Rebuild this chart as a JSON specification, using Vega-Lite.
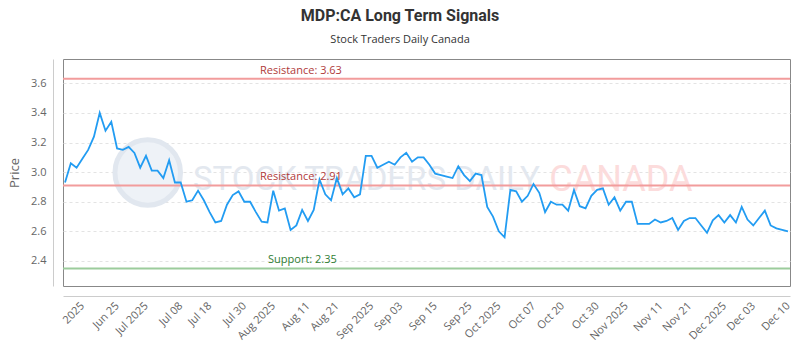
{
  "$schema": "https://vega.github.io/schema/vega-lite/v6.json",
  "width": 727,
  "height": 227,
  "autosize": {"type": "none"},
  "padding": {"left": 63, "top": 59, "right": 10, "bottom": 64},
  "background": "white",
  "config": {
    "view": {"stroke": "#888888", "strokeWidth": 1},
    "font": "Open Sans"
  },
  "title": {
    "text": "MDP:CA Long Term Signals",
    "subtitle": "Stock Traders Daily Canada",
    "font": "Roboto",
    "fontSize": 16,
    "fontWeight": "bold",
    "color": "#333333",
    "subtitleFont": "Open Sans",
    "subtitleFontSize": 11,
    "subtitleColor": "#333333",
    "subtitlePadding": 10,
    "offset": 14,
    "anchor": "middle",
    "frame": "bounds"
  },
  "resolve": {"scale": {"x": "independent"}, "axis": {"x": "independent"}},
  "datasets": {
    "prices": [
      {"i":0,"d":"Jun 10","p":2.93},{"i":1,"d":"Jun 11","p":3.06},{"i":2,"d":"Jun 12","p":3.03},{"i":3,"d":"2025","p":3.09},
      {"i":4,"d":"Jun 16","p":3.15},{"i":5,"d":"Jun 17","p":3.24},{"i":6,"d":"Jun 18","p":3.40},{"i":7,"d":"Jun 19","p":3.28},
      {"i":8,"d":"Jun 20","p":3.34},{"i":9,"d":"Jun 25","p":3.16},{"i":10,"d":"Jun 26","p":3.15},{"i":11,"d":"Jun 27","p":3.17},
      {"i":12,"d":"Jun 30","p":3.13},{"i":13,"d":"Jul 01","p":3.03},{"i":14,"d":"Jul 2025","p":3.11},{"i":15,"d":"Jul 02","p":3.01},
      {"i":16,"d":"Jul 03","p":3.01},{"i":17,"d":"Jul 04","p":2.96},{"i":18,"d":"Jul 06","p":3.08},{"i":19,"d":"Jul 07","p":2.93},
      {"i":20,"d":"Jul 08","p":2.93},{"i":21,"d":"Jul 10","p":2.80},{"i":22,"d":"Jul 11","p":2.81},{"i":23,"d":"Jul 14","p":2.875},
      {"i":24,"d":"Jul 16","p":2.81},{"i":25,"d":"Jul 18","p":2.73},{"i":26,"d":"Jul 21","p":2.66},{"i":27,"d":"Jul 22","p":2.67},
      {"i":28,"d":"Jul 24","p":2.78},{"i":29,"d":"Jul 25","p":2.845},{"i":30,"d":"Jul 28","p":2.87},{"i":31,"d":"Jul 30","p":2.80},
      {"i":32,"d":"Jul 31","p":2.80},{"i":33,"d":"Aug 01","p":2.73},{"i":34,"d":"Aug 04","p":2.665},{"i":35,"d":"Aug 05","p":2.66},
      {"i":36,"d":"Aug 2025","p":2.875},{"i":37,"d":"Aug 06","p":2.74},{"i":38,"d":"Aug 07","p":2.755},{"i":39,"d":"Aug 08","p":2.61},
      {"i":40,"d":"Aug 09","p":2.64},{"i":41,"d":"Aug 10","p":2.745},{"i":42,"d":"Aug 11","p":2.67},{"i":43,"d":"Aug 12","p":2.745},
      {"i":44,"d":"Aug 13","p":2.95},{"i":45,"d":"Aug 14","p":2.85},{"i":46,"d":"Aug 18","p":2.81},{"i":47,"d":"Aug 21","p":2.96},
      {"i":48,"d":"Aug 22","p":2.85},{"i":49,"d":"Aug 25","p":2.89},{"i":50,"d":"Aug 26","p":2.83},{"i":51,"d":"Aug 27","p":2.85},
      {"i":52,"d":"Aug 28","p":3.11},{"i":53,"d":"Sep 2025","p":3.11},{"i":54,"d":"Aug 29","p":3.03},{"i":55,"d":"Aug 30","p":3.05},
      {"i":56,"d":"Aug 31","p":3.07},{"i":57,"d":"Sep 02","p":3.05},{"i":58,"d":"Sep 03","p":3.10},{"i":59,"d":"Sep 04","p":3.13},
      {"i":60,"d":"Sep 05","p":3.07},{"i":61,"d":"Sep 08","p":3.10},{"i":62,"d":"Sep 10","p":3.10},{"i":63,"d":"Sep 12","p":3.05},
      {"i":64,"d":"Sep 15","p":2.99},{"i":65,"d":"Sep 16","p":2.98},{"i":66,"d":"Sep 17","p":2.97},{"i":67,"d":"Sep 18","p":2.96},
      {"i":68,"d":"Sep 19","p":3.04},{"i":69,"d":"Sep 22","p":2.98},{"i":70,"d":"Sep 25","p":2.94},{"i":71,"d":"Sep 26","p":2.99},
      {"i":72,"d":"Sep 29","p":2.98},{"i":73,"d":"Sep 30","p":2.765},{"i":74,"d":"Oct 01","p":2.70},{"i":75,"d":"Oct 2025","p":2.60},
      {"i":76,"d":"Oct 02","p":2.56},{"i":77,"d":"Oct 03","p":2.88},{"i":78,"d":"Oct 04","p":2.87},{"i":79,"d":"Oct 05","p":2.80},
      {"i":80,"d":"Oct 06","p":2.84},{"i":81,"d":"Oct 07","p":2.92},{"i":82,"d":"Oct 08","p":2.86},{"i":83,"d":"Oct 10","p":2.73},
      {"i":84,"d":"Oct 14","p":2.80},{"i":85,"d":"Oct 16","p":2.78},{"i":86,"d":"Oct 20","p":2.78},{"i":87,"d":"Oct 21","p":2.74},
      {"i":88,"d":"Oct 22","p":2.88},{"i":89,"d":"Oct 24","p":2.77},{"i":90,"d":"Oct 27","p":2.755},{"i":91,"d":"Oct 28","p":2.84},
      {"i":92,"d":"Oct 30","p":2.88},{"i":93,"d":"Oct 31","p":2.89},{"i":94,"d":"Nov 01","p":2.78},{"i":95,"d":"Nov 02","p":2.83},
      {"i":96,"d":"Nov 03","p":2.74},{"i":97,"d":"Nov 2025","p":2.80},{"i":98,"d":"Nov 04","p":2.80},{"i":99,"d":"Nov 05","p":2.65},
      {"i":100,"d":"Nov 06","p":2.65},{"i":101,"d":"Nov 07","p":2.65},{"i":102,"d":"Nov 10","p":2.68},{"i":103,"d":"Nov 11","p":2.66},
      {"i":104,"d":"Nov 12","p":2.67},{"i":105,"d":"Nov 14","p":2.69},{"i":106,"d":"Nov 17","p":2.61},{"i":107,"d":"Nov 19","p":2.67},
      {"i":108,"d":"Nov 21","p":2.69},{"i":109,"d":"Nov 24","p":2.69},{"i":110,"d":"Nov 25","p":2.64},{"i":111,"d":"Nov 26","p":2.59},
      {"i":112,"d":"Nov 27","p":2.675},{"i":113,"d":"Nov 28","p":2.71},{"i":114,"d":"Dec 2025","p":2.66},{"i":115,"d":"Nov 29","p":2.71},
      {"i":116,"d":"Nov 30","p":2.66},{"i":117,"d":"Dec 01","p":2.765},{"i":118,"d":"Dec 02","p":2.68},{"i":119,"d":"Dec 03","p":2.64},
      {"i":120,"d":"Dec 04","p":2.69},{"i":121,"d":"Dec 05","p":2.74},{"i":122,"d":"Dec 07","p":2.64},{"i":123,"d":"Dec 08","p":2.62},
      {"i":124,"d":"Dec 09","p":2.61},{"i":125,"d":"Dec 10","p":2.60}
    ],
    "levels": [
      {"p": 3.63, "i": 33.7, "kind": "Resistance", "label": "Resistance: 3.63"},
      {"p": 2.91, "i": 33.7, "kind": "Resistance", "label": "Resistance: 2.91"},
      {"p": 2.35, "i": 35.1, "kind": "Support", "label": "Support: 2.35"}
    ],
    "logo": [{"i": 14.3, "p": 2.998}],
    "wm1": [{"i": 52.1, "p": 2.95, "t": "STOCK TRADERS DAILY"}],
    "wm2": [{"i": 96.1, "p": 2.95, "t": "CANADA"}]
  },
  "encoding": {
    "y": {
      "field": "p", "type": "quantitative",
      "scale": {"domain": [2.231, 3.764], "nice": false, "zero": false},
      "axis": {
        "title": "Price",
        "titleFontSize": 13,
        "titleFontWeight": "normal",
        "titleColor": "#666666",
        "titlePadding": 9,
        "offset": 10,
        "ticks": false,
        "domainColor": "#cccccc",
        "labelFontSize": 11,
        "labelColor": "#666666",
        "labelPadding": 7,
        "labelOverlap": false,
        "values": [2.4, 2.6, 2.8, 3.0, 3.2, 3.4, 3.6],
        "format": ".1f",
        "grid": true,
        "gridColor": "#e3e3e3",
        "gridDash": [3, 3]
      }
    }
  },
  "layer": [
    {
      "data": {"name": "logo"},
      "mark": {"type": "point", "shape": "circle", "filled": true, "size": 4300, "fill": "#eef2f7", "stroke": "#e1e7ef", "strokeWidth": 5, "opacity": 1},
      "encoding": {
        "x": {"field": "i", "type": "quantitative", "scale": {"domain": [-0.35, 125.35], "nice": false, "zero": false}, "axis": null}
      }
    },
    {
      "data": {"name": "wm1"},
      "mark": {"type": "text", "font": "Roboto", "fontSize": 33, "baseline": "middle", "align": "center", "fill": "#e3e8ef"},
      "encoding": {
        "x": {"field": "i", "type": "quantitative", "scale": {"domain": [-0.35, 125.35], "nice": false, "zero": false}, "axis": null},
        "text": {"field": "t"}
      }
    },
    {
      "data": {"name": "wm2"},
      "mark": {"type": "text", "font": "Roboto", "fontSize": 36, "baseline": "middle", "align": "center", "fill": "#fcdcdc"},
      "encoding": {
        "x": {"field": "i", "type": "quantitative", "scale": {"domain": [-0.35, 125.35], "nice": false, "zero": false}, "axis": null},
        "text": {"field": "t"}
      }
    },
    {
      "data": {"name": "levels"},
      "mark": {"type": "rule", "strokeWidth": 2},
      "encoding": {
        "stroke": {"field": "kind", "type": "nominal", "scale": {"domain": ["Resistance", "Support"], "range": ["#f29c9c", "#9ccc9c"]}, "legend": null}
      }
    },
    {
      "data": {"name": "prices"},
      "mark": {"type": "line", "color": "#229cf2", "strokeWidth": 1.8},
      "encoding": {
        "x": {
          "field": "d", "type": "ordinal", "sort": null,
          "scale": {"type": "point", "padding": 0.35},
          "axis": {
            "title": null, "offset": 10, "grid": false, "ticks": false, "domainColor": "#cccccc",
            "labelAngle": -45, "labelBaseline": "middle", "labelFontSize": 11, "labelColor": "#666666", "labelPadding": 8, "labelDx": -2,
            "labelOverlap": false, "labelFlush": false,
            "values": ["2025", "Jun 25", "Jul 2025", "Jul 08", "Jul 18", "Jul 30", "Aug 2025", "Aug 11", "Aug 21", "Sep 2025", "Sep 03", "Sep 15", "Sep 25", "Oct 2025", "Oct 07", "Oct 20", "Oct 30", "Nov 2025", "Nov 11", "Nov 21", "Dec 2025", "Dec 03", "Dec 10"]
          }
        }
      }
    },
    {
      "data": {"name": "levels"},
      "mark": {"type": "text", "align": "left", "baseline": "alphabetic", "dy": -5, "fontSize": 11},
      "encoding": {
        "x": {"field": "i", "type": "quantitative", "scale": {"domain": [-0.35, 125.35], "nice": false, "zero": false}, "axis": null},
        "text": {"field": "label"},
        "fill": {"field": "kind", "type": "nominal", "scale": {"domain": ["Resistance", "Support"], "range": ["#b03a3a", "#2f7d32"]}, "legend": null}
      }
    }
  ]
}
